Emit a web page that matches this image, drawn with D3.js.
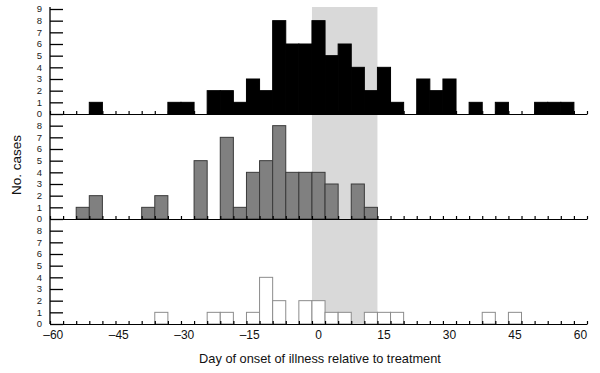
<!DOCTYPE html>
<html>
<head>
<meta charset="utf-8">
<script src="https://cdn.jsdelivr.net/npm/d3@7"></script>
<style>
  body { margin: 0; background: #fff; }
  svg { display: block; font-family: "Liberation Sans", Arial, sans-serif; }
</style>
</head>
<body>
<svg width="600" height="373"></svg>
<script>
// bins are 3 days wide, centred on the day given
const topDays = [-51, -33, -30, -24, -21, -18, -15, -12, -9, -6, -3, 0, 3, 6, 9, 12, 15, 18, 24, 27, 30, 36, 42, 51, 54, 57];
const topCounts = [1, 1, 1, 2, 2, 1, 3, 2, 8, 6, 6, 8, 5, 6, 4, 2, 4, 1, 3, 2, 3, 1, 1, 1, 1, 1];

const midDays = [-54, -51, -39, -36, -27, -21, -18, -15, -12, -9, -6, -3, 0, 3, 9, 12];
const midCounts = [1, 2, 1, 2, 5, 7, 1, 4, 5, 8, 4, 4, 4, 3, 3, 1];

const botDays = [-36, -24, -21, -15, -12, -9, -3, 0, 3, 6, 12, 15, 18, 39, 45];
const botCounts = [1, 1, 1, 1, 4, 2, 2, 2, 1, 1, 1, 1, 1, 1, 1];

const xTickValues = [-60, -45, -30, -15, 0, 15, 30, 45, 60];
const treatmentWindow = [-1.5, 13.5];
const binWidth = 3;

const svg = d3.select("svg");

var x = d3.scaleLinear().domain([-61.5, 61.5]).range([50, 587]);

// one panel per group, stacked, each 9 units tall
var panelHeight = 105;
var panels = [
    { days: topDays, counts: topCounts, base: 114, maxTick: 9, fill: "#000000", stroke: "#000000" },
    { days: midDays, counts: midCounts, base: 219, maxTick: 8, fill: "#808080", stroke: "#3a3a3a" },
    { days: botDays, counts: botCounts, base: 324, maxTick: 8, fill: "#ffffff", stroke: "#8c8c8c" }
];

// shaded treatment period
svg.append("rect")
    .attr("x", x(treatmentWindow[0]))
    .attr("y", 7)
    .attr("width", x(treatmentWindow[1]) - x(treatmentWindow[0]))
    .attr("height", 324 - 7)
    .attr("fill", "#d9d9d9");

var binEdges = d3.range(-61.5, 61.6, binWidth);

panels.forEach((p) => {
    var y = d3.scaleLinear().domain([0, 9]).range([p.base, p.base - panelHeight]);
    var data = p.days.map((d, i) => ({ day: d, n: p.counts[i] }));

    svg.append("g").selectAll("rect")
        .data(data)
        .join("rect")
        .attr("x", d => x(d.day - binWidth / 2))
        .attr("y", d => y(d.n))
        .attr("width", d => x(d.day + binWidth / 2) - x(d.day - binWidth / 2))
        .attr("height", d => y(0) - y(d.n))
        .attr("fill", p.fill)
        .attr("stroke", p.stroke)
        .attr("stroke-width", 1);

    // baseline with small ticks at bin edges
    var xAxis = d3.axisTop(x).tickValues(binEdges).tickSize(3).tickSizeOuter(0).tickFormat("");
    svg.append("g")
        .attr("transform", "translate(0," + p.base + ")")
        .call(xAxis)
        .call(g => g.selectAll("line, path").attr("stroke", "#000").attr("stroke-width", 1.2));

    // y ticks point inward
    var yAxis = d3.axisRight(y).tickValues(d3.range(0, p.maxTick + 1)).tickSize(13).tickFormat("");
    svg.append("g")
        .attr("transform", "translate(50,0)")
        .call(yAxis)
        .call(g => g.select(".domain").remove())
        .call(g => g.selectAll("line").attr("stroke", "#000").attr("stroke-width", 1.3));

    svg.append("g").selectAll("text")
        .data(d3.range(0, p.maxTick + 1))
        .join("text")
        .attr("x", 42)
        .attr("y", d => y(d))
        .attr("dy", "0.35em")
        .attr("text-anchor", "end")
        .attr("font-size", 9.5)
        .attr("fill", "#222")
        .text(d => d);
});

// y axis line through all panels
svg.append("line")
    .attr("x1", 50).attr("x2", 50)
    .attr("y1", 7).attr("y2", 324)
    .attr("stroke", "#000").attr("stroke-width", 1.3);

// x tick labels under the bottom panel
svg.append("g").selectAll("text")
    .data(xTickValues)
    .join("text")
    .attr("x", d => x(d))
    .attr("dx", d => d < 0 ? -3.3 : 0)
    .attr("y", 339)
    .attr("text-anchor", "middle")
    .attr("font-size", 12)
    .attr("fill", "#111")
    .text(d => d < 0 ? "\u2013" + Math.abs(d) : d);

svg.append("text")
    .attr("x", 320)
    .attr("y", 363)
    .attr("text-anchor", "middle")
    .attr("font-size", 12.8)
    .attr("fill", "#111")
    .text("Day of onset of illness relative to treatment");

svg.append("text")
    .attr("transform", "translate(21,165) rotate(-90)")
    .attr("text-anchor", "middle")
    .attr("font-size", 13.5)
    .attr("fill", "#111")
    .text("No. cases");
</script>
</body>
</html>
